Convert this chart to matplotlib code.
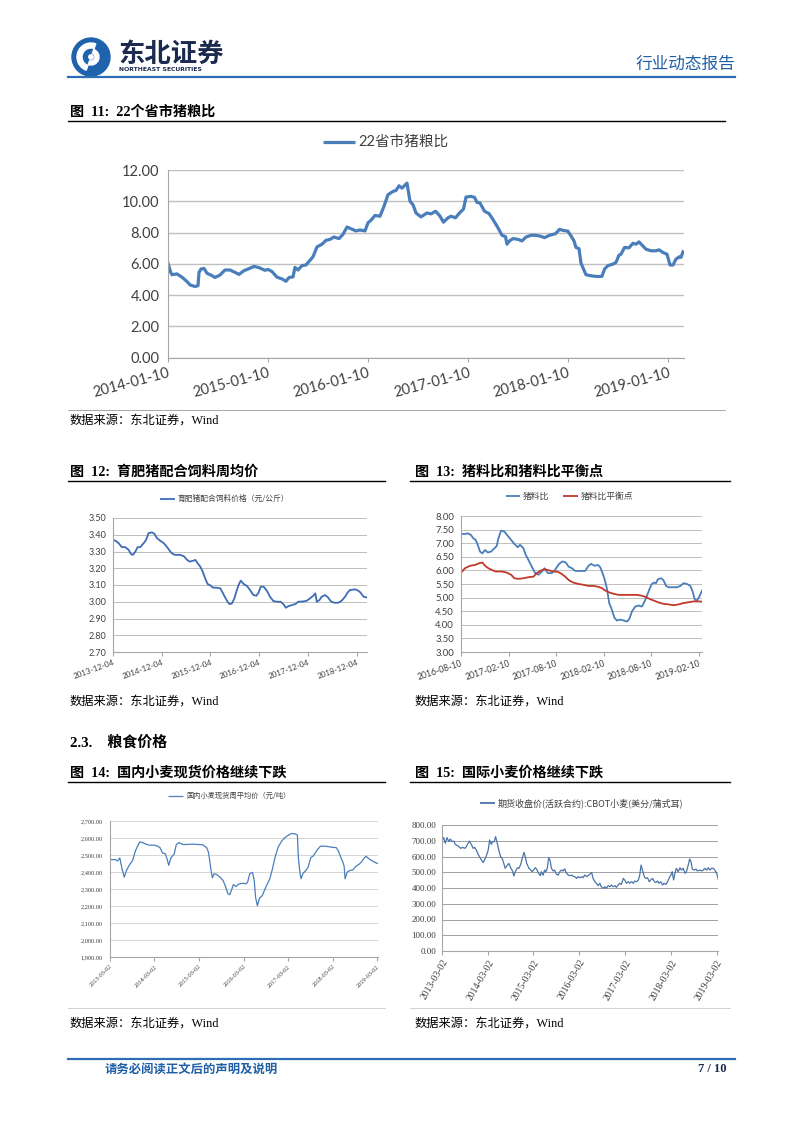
import numpy as np
import pandas as pd
import matplotlib
matplotlib.use('Agg')
import matplotlib.pyplot as plt
from matplotlib.patches import Circle, Wedge

# ---------------- data ----------------
# Fig 11: 22省市猪粮比 (offsets in years from start date)
c1_start = '2014-01-10'
c1_t = [0, .027, .04, .09, .14, .19, .22, .27, .30, .31,
        .33, .36, .39, .44, .47, .52, .57, .62, .67, .71,
        .76, .80, .86, .91, .97, 1.00, 1.04, 1.09, 1.14, 1.18,
        1.21, 1.25, 1.27, 1.30, 1.34, 1.38, 1.43, 1.45, 1.49, 1.54,
        1.58, 1.62, 1.66, 1.71, 1.75, 1.79, 1.83, 1.88, 1.92, 1.97,
        2.00, 2.03, 2.07, 2.12, 2.16, 2.20, 2.25, 2.28, 2.31, 2.34,
        2.39, 2.42, 2.45, 2.48, 2.53, 2.59, 2.63, 2.675, 2.715, 2.755,
        2.80, 2.83, 2.875, 2.915, 2.955, 2.98, 3.03, 3.065, 3.09, 3.12,
        3.165, 3.21, 3.25, 3.30, 3.34, 3.375, 3.39, 3.415, 3.45, 3.50,
        3.54, 3.58, 3.63, 3.675, 3.715, 3.765, 3.815, 3.875, 3.915, 3.955,
        3.998, 4.03, 4.06, 4.08, 4.11, 4.13, 4.155, 4.18, 4.22, 4.265,
        4.315, 4.34, 4.365, 4.40, 4.45, 4.48, 4.51, 4.53, 4.565, 4.61,
        4.65, 4.68, 4.71, 4.74, 4.78, 4.83, 4.88, 4.91, 4.95, 4.99,
        5.02, 5.05, 5.08, 5.115, 5.13, 5.15]
c1_v = [6.02, 5.45, 5.30, 5.35, 5.14, 4.86, 4.65, 4.54, 4.60, 5.45,
        5.66, 5.70, 5.39, 5.24, 5.12, 5.28, 5.60, 5.60, 5.45, 5.32,
        5.56, 5.66, 5.83, 5.75, 5.58, 5.64, 5.50, 5.14, 5.03, 4.88,
        5.12, 5.16, 5.77, 5.60, 5.88, 5.92, 6.30, 6.45, 7.08, 7.25,
        7.50, 7.56, 7.71, 7.61, 7.88, 8.35, 8.24, 8.10, 8.16, 8.10,
        8.62, 8.79, 9.09, 9.04, 9.68, 10.42, 10.63, 10.69, 10.99, 10.84,
        11.16, 10.00, 9.78, 9.25, 9.00, 9.25, 9.19, 9.36, 9.09, 8.66,
        8.94, 9.04, 8.94, 9.25, 9.50, 10.27, 10.31, 10.25, 9.93, 9.89,
        9.36, 9.21, 8.83, 8.30, 7.82, 7.73, 7.25, 7.46, 7.61, 7.56,
        7.46, 7.71, 7.82, 7.82, 7.78, 7.67, 7.82, 7.92, 8.20, 8.13,
        8.09, 7.78, 7.46, 7.04, 6.97, 6.04, 5.66, 5.30, 5.24, 5.20,
        5.18, 5.20, 5.66, 5.88, 5.98, 6.09, 6.55, 6.61, 7.04, 7.02,
        7.31, 7.25, 7.40, 7.20, 6.93, 6.83, 6.83, 6.89, 6.72, 6.61,
        5.92, 5.92, 6.30, 6.45, 6.41, 6.76]
c1_ticks = ['2014-01-10', '2015-01-10', '2016-01-10', '2017-01-10', '2018-01-10', '2019-01-10']
c1_yticks = [0, 2, 4, 6, 8, 10, 12]
c1_label = '22省市猪粮比'

# Fig 12: 育肥猪配合饲料价格
c12_start = '2013-12-04'
c12_t = [0, .05, .116, .18, .25, .32, .37, .41, .46, .505,
         .56, .63, .68, .73, .80, .85, .90, .97, 1.04, 1.11,
         1.175, 1.23, 1.28, 1.38, 1.46, 1.52, 1.57, 1.64, 1.69, 1.735,
         1.79, 1.84, 1.89, 1.94, 1.995, 2.05, 2.12, 2.20, 2.25, 2.30,
         2.35, 2.39, 2.44, 2.49, 2.53, 2.575, 2.62, 2.68, 2.75, 2.81,
         2.88, 2.94, 2.985, 3.03, 3.09, 3.16, 3.22, 3.29, 3.37, 3.44,
         3.50, 3.545, 3.60, 3.67, 3.74, 3.80, 3.91, 3.975, 4.04, 4.10,
         4.15, 4.18, 4.235, 4.28, 4.35, 4.41, 4.47, 4.54, 4.62, 4.69,
         4.76, 4.81, 4.86, 4.97, 5.03, 5.08, 5.14, 5.20]
c12_v = [3.370, 3.364, 3.350, 3.326, 3.326, 3.310, 3.284, 3.280, 3.300, 3.326,
         3.326, 3.350, 3.370, 3.410, 3.414, 3.406, 3.380, 3.364, 3.350, 3.326,
         3.300, 3.284, 3.280, 3.280, 3.270, 3.250, 3.240, 3.244, 3.250, 3.230,
         3.210, 3.180, 3.140, 3.106, 3.098, 3.084, 3.084, 3.080, 3.054, 3.026,
         3.000, 2.986, 2.990, 3.020, 3.060, 3.100, 3.126, 3.106, 3.094, 3.070,
         3.040, 3.036, 3.054, 3.090, 3.090, 3.064, 3.030, 3.004, 3.000, 3.000,
         2.984, 2.964, 2.974, 2.980, 2.986, 3.000, 3.002, 3.006, 3.020, 3.034,
         3.050, 3.000, 3.010, 3.030, 3.040, 3.026, 3.002, 2.994, 2.994, 3.006,
         3.030, 3.054, 3.070, 3.074, 3.066, 3.054, 3.030, 3.026]
c12_ticks = ['2013-12-04', '2014-12-04', '2015-12-04', '2016-12-04', '2017-12-04', '2018-12-04']
c12_yticks = [2.7, 2.8, 2.9, 3.0, 3.1, 3.2, 3.3, 3.4, 3.5]
c12_label = '育肥猪配合饲料价格（元/公斤）'

# Fig 13: 猪料比 / 猪料比平衡点
c13_start = '2016-08-10'
c13_bt = [0, .042, .077, .105, .130, .154, .176, .200, .225, .253,
          .281, .316, .351, .376, .393, .421, .456, .492, .527, .562,
          .597, .621, .657, .681, .709, .744, .780, .815, .850, .878,
          .913, .955, .990, 1.008, 1.032, 1.067, 1.103, 1.131, 1.166, 1.201,
          1.254, 1.306, 1.341, 1.369, 1.404, 1.440, 1.464, 1.489, 1.510, 1.534,
          1.559, 1.587, 1.615, 1.640, 1.675, 1.710, 1.745, 1.770, 1.798, 1.833,
          1.868, 1.903, 1.931, 1.966, 2.001, 2.026, 2.051, 2.072, 2.107, 2.131,
          2.156, 2.184, 2.219, 2.272, 2.307, 2.342, 2.377, 2.412, 2.437, 2.458,
          2.482, 2.507, 2.535]
c13_bv = [7.34, 7.34, 7.36, 7.30, 7.18, 7.12, 6.94, 6.69, 6.63, 6.75,
          6.66, 6.69, 6.81, 6.90, 7.18, 7.46, 7.43, 7.27, 7.12, 6.97,
          6.85, 6.94, 6.81, 6.57, 6.39, 6.14, 5.90, 5.84, 5.96, 6.08,
          5.90, 5.90, 6.02, 6.12, 6.24, 6.33, 6.29, 6.14, 6.08, 5.98,
          5.98, 5.98, 6.17, 6.24, 6.17, 6.20, 6.12, 5.90, 5.68, 5.35,
          4.80, 4.55, 4.25, 4.16, 4.19, 4.16, 4.12, 4.21, 4.49, 4.67,
          4.71, 4.67, 4.86, 5.16, 5.47, 5.55, 5.53, 5.68, 5.71, 5.63,
          5.43, 5.38, 5.38, 5.38, 5.43, 5.53, 5.50, 5.43, 5.22, 4.94,
          4.89, 5.04, 5.26]
c13_rt = [0, .042, .095, .147, .190, .225, .253, .288, .323, .365,
          .428, .481, .527, .562, .604, .657, .709, .762, .797, .843,
          .885, .927, .973, 1.018, 1.060, 1.096, 1.138, 1.183, 1.236, 1.289,
          1.341, 1.394, 1.440, 1.482, 1.517, 1.559, 1.605, 1.657, 1.728, 1.798,
          1.850, 1.903, 1.945, 1.991, 2.037, 2.079, 2.131, 2.184, 2.237, 2.289,
          2.342, 2.395, 2.447, 2.500, 2.535]
c13_rv = [5.92, 6.08, 6.17, 6.20, 6.26, 6.29, 6.17, 6.08, 6.02, 5.96,
          5.96, 5.92, 5.84, 5.71, 5.69, 5.71, 5.75, 5.77, 5.90, 6.00,
          6.04, 6.00, 5.96, 5.95, 5.87, 5.77, 5.63, 5.55, 5.50, 5.47,
          5.43, 5.43, 5.40, 5.35, 5.26, 5.19, 5.14, 5.10, 5.10, 5.10,
          5.10, 5.07, 5.02, 4.94, 4.88, 4.82, 4.77, 4.75, 4.72, 4.75,
          4.80, 4.83, 4.86, 4.86, 4.85]
c13_ticks = ['2016-08-10', '2017-02-10', '2017-08-10', '2018-02-10', '2018-08-10', '2019-02-10']
c13_yticks = [3.0, 3.5, 4.0, 4.5, 5.0, 5.5, 6.0, 6.5, 7.0, 7.5, 8.0]
c13_labels = ['猪料比', '猪料比平衡点']

# Fig 14: 国内小麦现货周平均价
c14_start = '2013-03-02'
c14_t = [0, .12, .17, .22, .27, .32, .37, .43, .51, .57,
         .62, .67, .73, .81, .88, .99, 1.07, 1.12, 1.18, 1.24,
         1.28, 1.32, 1.37, 1.44, 1.49, 1.55, 1.64, 1.74, 1.85, 1.97,
         2.08, 2.17, 2.21, 2.24, 2.27, 2.30, 2.34, 2.39, 2.47, 2.54,
         2.60, 2.65, 2.69, 2.74, 2.77, 2.83, 2.90, 2.99, 3.05, 3.09,
         3.14, 3.20, 3.24, 3.27, 3.31, 3.36, 3.42, 3.50, 3.59, 3.65,
         3.71, 3.78, 3.86, 3.93, 4.01, 4.08, 4.17, 4.21, 4.23, 4.26,
         4.29, 4.34, 4.39, 4.45, 4.51, 4.56, 4.60, 4.66, 4.73, 4.83,
         4.93, 5.03, 5.08, 5.13, 5.18, 5.23, 5.26, 5.28, 5.33, 5.39,
         5.46, 5.52, 5.59, 5.65, 5.70, 5.75, 5.81, 5.89, 5.98, 6.02]
c14_v = [2473, 2473, 2465, 2483, 2419, 2370, 2409, 2439, 2469, 2524,
         2552, 2577, 2573, 2564, 2558, 2558, 2552, 2544, 2512, 2508,
         2479, 2439, 2485, 2504, 2562, 2573, 2562, 2562, 2564, 2562,
         2560, 2544, 2518, 2469, 2409, 2366, 2390, 2386, 2370, 2350,
         2311, 2271, 2267, 2301, 2326, 2315, 2330, 2334, 2330, 2340,
         2390, 2398, 2350, 2251, 2202, 2247, 2261, 2311, 2360, 2419,
         2489, 2548, 2583, 2603, 2617, 2627, 2623, 2617, 2489, 2409,
         2360, 2394, 2405, 2429, 2485, 2493, 2508, 2532, 2552, 2552,
         2548, 2544, 2544, 2524, 2489, 2459, 2433, 2360, 2400, 2409,
         2413, 2433, 2445, 2459, 2479, 2493, 2479, 2465, 2453, 2449]
c14_ticks = ['2013-03-02', '2014-03-02', '2015-03-02', '2016-03-02', '2017-03-02', '2018-03-02', '2019-03-02']
c14_yticks = [1900, 2000, 2100, 2200, 2300, 2400, 2500, 2600, 2700]
c14_label = '国内小麦现货周平均价（元/吨）'

# Fig 15: CBOT 小麦
c15_start = '2013-03-02'
c15_t = [0, .036, .07, .11, .15, .18, .22, .26, .29, .34,
         .37, .41, .45, .50, .53, .57, .60, .64, .68, .71,
         .75, .79, .82, .86, .90, .93, .97, 1.01, 1.04, 1.08,
         1.10, 1.14, 1.17, 1.20, 1.24, 1.28, 1.32, 1.35, 1.38, 1.43,
         1.46, 1.50, 1.54, 1.57, 1.60, 1.65, 1.68, 1.72, 1.75, 1.79,
         1.82, 1.85, 1.90, 1.93, 1.97, 2.00, 2.04, 2.08, 2.11, 2.15,
         2.17, 2.21, 2.24, 2.27, 2.30, 2.33, 2.36, 2.39, 2.43, 2.46,
         2.50, 2.54, 2.57, 2.61, 2.65, 2.68, 2.72, 2.76, 2.79, 2.83,
         2.86, 2.90, 2.94, 2.97, 3.01, 3.05, 3.08, 3.12, 3.16, 3.19,
         3.23, 3.27, 3.30, 3.34, 3.37, 3.41, 3.45, 3.48, 3.52, 3.56,
         3.59, 3.63, 3.67, 3.70, 3.74, 3.78, 3.81, 3.85, 3.88, 3.92,
         3.96, 3.99, 4.03, 4.07, 4.10, 4.14, 4.18, 4.21, 4.25, 4.29,
         4.32, 4.35, 4.39, 4.42, 4.45, 4.49, 4.53, 4.56, 4.60, 4.64,
         4.67, 4.71, 4.74, 4.78, 4.82, 4.85, 4.89, 4.93, 4.96, 5.00,
         5.03, 5.06, 5.09, 5.12, 5.16, 5.20, 5.23, 5.27, 5.31, 5.34,
         5.38, 5.41, 5.44, 5.47, 5.51, 5.55, 5.58, 5.63, 5.67, 5.71,
         5.74, 5.78, 5.82, 5.85, 5.89, 5.93, 5.96, 6.00, 6.04]
c15_v = [700, 720, 684, 720, 694, 711, 694, 698, 677, 669,
         662, 652, 658, 652, 662, 684, 698, 677, 652, 658,
         641, 614, 599, 578, 561, 578, 605, 641, 705, 677,
         694, 694, 726, 694, 641, 599, 584, 556, 525, 546,
         556, 529, 508, 476, 503, 529, 525, 550, 584, 626,
         599, 556, 525, 518, 503, 514, 529, 514, 493, 478,
         503, 482, 514, 503, 525, 592, 578, 525, 508, 514,
         487, 482, 503, 514, 508, 522, 493, 482, 478, 482,
         476, 472, 461, 472, 465, 472, 465, 482, 472, 478,
         487, 499, 461, 440, 430, 415, 430, 408, 398, 408,
         398, 415, 408, 419, 408, 415, 404, 419, 430, 423,
         461, 451, 430, 440, 430, 440, 430, 444, 440, 451,
         482, 546, 503, 472, 461, 465, 440, 451, 461, 440,
         434, 444, 430, 440, 419, 430, 423, 440, 461, 482,
         503, 451, 493, 525, 503, 529, 514, 525, 493, 503,
         546, 584, 567, 520, 514, 520, 508, 514, 508, 514,
         525, 514, 529, 514, 525, 525, 514, 493, 451]
c15_ticks = ['2013-03-02', '2014-03-02', '2015-03-02', '2016-03-02', '2017-03-02', '2018-03-02', '2019-03-02']
c15_yticks = [0, 100, 200, 300, 400, 500, 600, 700, 800]
c15_label = '期货收盘价(活跃合约):CBOT小麦(美分/蒲式耳)'

# ---------------- helpers ----------------
W, H = 802, 1133
fig = plt.figure(figsize=(W / 100, H / 100), dpi=100)
bg = fig.add_axes([0, 0, 1, 1])
bg.set_xlim(0, W)
bg.set_ylim(H, 0)
bg.axis('off')

CJK = ['Noto Sans CJK SC']
SERIF = ['Liberation Serif', 'Noto Sans CJK SC']
SANS = ['Lato', 'Noto Sans CJK SC']
BLUE = '#4A7EBB'
DARK = '#404040'


def rect(l, t, r, b):
    return [l / W, 1 - b / H, (r - l) / W, (b - t) / H]


def to_dates(start, t):
    return pd.Timestamp(start) + pd.to_timedelta(np.asarray(t) * 365.25, unit='D')


def style(ax, start, end_years, ticks, yticks, ylabels, yfs, xfs, rot, family,
          gridc='#BFBFBF', gridlw=0.7, spinec='#A6A6A6', xpad=2, ypad=4):
    ax.set_facecolor('none')
    ax.set_xlim(pd.Timestamp(start), to_dates(start, [end_years])[0])
    ax.set_ylim(yticks[0], yticks[-1])
    ax.set_yticks(yticks)
    ax.set_yticklabels(ylabels, fontsize=yfs, family=family, color=DARK)
    tk = pd.to_datetime(ticks)
    ax.set_xticks(tk)
    ax.set_xticklabels(ticks, fontsize=xfs, family=family, color=DARK,
                       rotation=rot, ha='right', rotation_mode='anchor')
    for s in ['top', 'right']:
        ax.spines[s].set_visible(False)
    for s in ['left', 'bottom']:
        ax.spines[s].set_color(spinec)
        ax.spines[s].set_linewidth(0.8)
    ax.grid(axis='y', color=gridc, lw=gridlw)
    ax.set_axisbelow(True)
    ax.tick_params(axis='y', length=0, pad=ypad)
    ax.tick_params(axis='x', length=3, color=spinec, pad=xpad)


def legend_line(x0, x1, y, text, color, lw, fs, family=CJK):
    bg.plot([x0, x1], [y, y], color=color, lw=lw, solid_capstyle='butt')
    bg.text(x1 + 3, y, text, fontsize=fs, va='center', ha='left', family=family, color=DARK)


def title(x, y, text, x0, x1):
    bg.text(x, y, text, fontsize=10.2, fontweight='bold', va='center', ha='left', family=SERIF)
    bg.plot([x0, x1], [y + 9, y + 9], color='black', lw=1)


def source(x, y):
    bg.text(x, y, '数据来源：东北证券，Wind', fontsize=8.8, va='center', ha='left', family=SERIF)


# ---------------- header ----------------
bg.add_patch(Circle((91, 57), 19, color='#1f63ad'))
bg.add_patch(Wedge((91, 57), 14, 110, 290, width=5, color='white'))
bg.add_patch(Wedge((91, 57), 8, 290, 470, width=4, color='white'))
bg.add_patch(Circle((91, 57), 2.2, color='white'))
bg.text(118, 54, '东北证券', fontsize=19, fontweight='bold', color='#1b2a4e', va='center', ha='left', family=CJK)
bg.text(119, 69.5, 'NORTHEAST SECURITIES', fontsize=4.4, fontweight='bold', color='#1b2a4e',
        va='center', ha='left', family='DejaVu Sans')
bg.text(735, 64, '行业动态报告', fontsize=12, color='#1f5fa8', ha='right', va='center', family=CJK)
bg.plot([68, 735], [76.5, 76.5], color='#2e6db5', lw=1.6)

# ---------------- Fig 11 ----------------
title(70, 112, '图  11:  22个省市猪粮比', 68, 725)
ax1 = fig.add_axes(rect(168, 170, 684, 357.5))
ax1.plot(to_dates(c1_start, c1_t), c1_v, color=BLUE, lw=2.3)
style(ax1, c1_start, 5.16, c1_ticks, c1_yticks, [f'{v:.2f}' for v in c1_yticks],
      10.5, 10.5, 15, SANS, gridc='#C0C0C0', gridlw=1.0, ypad=6, xpad=3)
legend_line(323, 355, 142, c1_label, BLUE, 2.3, 10.5, SANS)
bg.plot([68, 725], [410, 410], color='#9a9a9a', lw=0.6)
source(70, 422)

# ---------------- Fig 12 ----------------
title(70, 472, '图  12:  育肥猪配合饲料周均价', 68, 385)
ax12 = fig.add_axes(rect(113, 518, 367, 652))
ax12.plot(to_dates(c12_start, c12_t), c12_v, color='#3F6CB5', lw=1.3)
style(ax12, c12_start, 5.21, c12_ticks, c12_yticks, [f'{v:.2f}' for v in c12_yticks],
      6.5, 5.8, 20, SANS, ypad=5)
legend_line(160, 175, 499, c12_label, '#3F6CB5', 1.3, 5.6)
source(70, 703)

# ---------------- Fig 13 ----------------
title(415, 472, '图  13:  猪料比和猪料比平衡点', 410, 730)
ax13 = fig.add_axes(rect(461, 516, 702, 652))
ax13.plot(to_dates(c13_start, c13_bt), c13_bv, color=BLUE, lw=1.3)
ax13.plot(to_dates(c13_start, c13_rt), c13_rv, color='#C0392B', lw=1.3)
style(ax13, c13_start, 2.535, c13_ticks, c13_yticks, [f'{v:.2f}' for v in c13_yticks],
      6.8, 6.2, 18, SANS, ypad=5)
legend_line(506, 520, 496, c13_labels[0], BLUE, 1.3, 6.3)
legend_line(563, 578, 496, c13_labels[1], '#C0392B', 1.3, 6.3)
source(415, 703)

# ---------------- section ----------------
bg.text(70, 742, '2.3.    粮食价格', fontsize=10.8, fontweight='bold', va='center', ha='left', family=SERIF)

# ---------------- Fig 14 ----------------
title(70, 773, '图  14:  国内小麦现货价格继续下跌', 68, 385)
ax14 = fig.add_axes(rect(110, 821, 378, 957))
ax14.plot(to_dates(c14_start, c14_t), c14_v, color=BLUE, lw=0.9)
style(ax14, c14_start, 6.02, c14_ticks, c14_yticks, [f'{v:,.2f}' for v in c14_yticks],
      4.6, 4.6, 45, SERIF, gridc='#D0D0D0', gridlw=0.6, ypad=5)
legend_line(168, 183, 796, c14_label, BLUE, 0.9, 5.2)
bg.plot([68, 385], [1008, 1008], color='#bdbdbd', lw=0.5)
source(70, 1025)

# ---------------- Fig 15 ----------------
title(415, 773, '图  15:  国际小麦价格继续下跌', 410, 730)
ax15 = fig.add_axes(rect(442, 825, 718, 951))
ax15.plot(to_dates(c15_start, c15_t), c15_v, color='#4A74A8', lw=0.9)
style(ax15, c15_start, 6.03, c15_ticks, c15_yticks, [f'{v:.2f}' for v in c15_yticks],
      6.5, 7, 60, SERIF, gridc='#A0A0A0', gridlw=0.7, ypad=4)
legend_line(480, 495, 803, c15_label, '#4A74A8', 1.3, 6.5)
bg.plot([410, 730], [1008, 1008], color='#bdbdbd', lw=0.5)
source(415, 1025)

# ---------------- footer ----------------
bg.plot([68, 735], [1059, 1059], color='#2e6db5', lw=1.6)
bg.text(105, 1069, '请务必阅读正文后的声明及说明', fontsize=8.9, fontweight='bold', color='#1f5fa8',
        va='center', ha='left', family=CJK)
bg.text(727, 1069, '7 / 10', fontsize=9, fontweight='bold', color='#1b2a4e',
        va='center', ha='right', family='Liberation Serif')

fig.savefig('out.png', dpi=100)
